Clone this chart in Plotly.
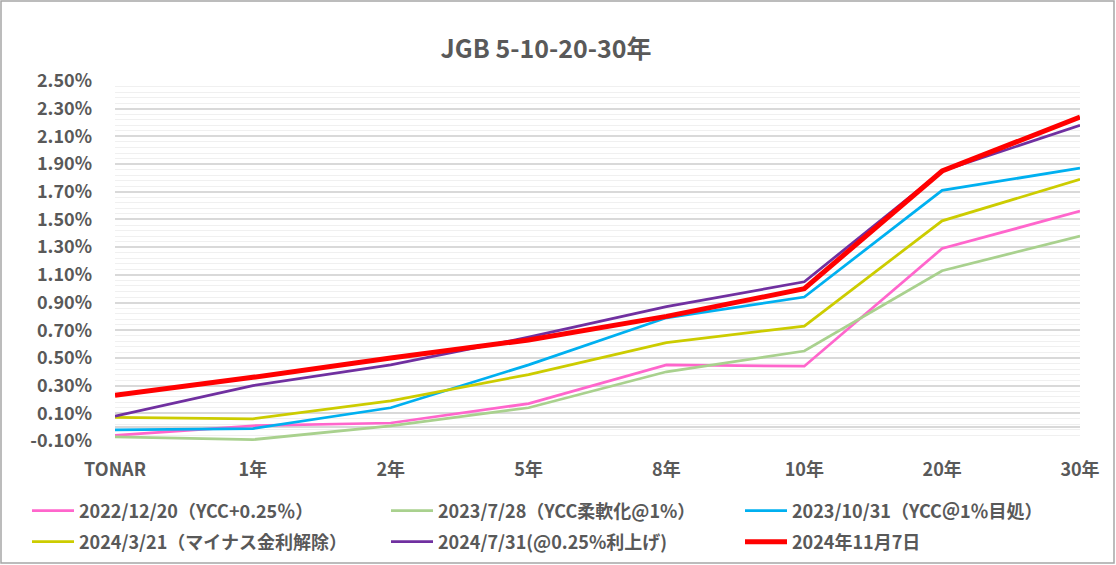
import plotly.graph_objects as go

categories = ["TONAR", "1年", "2年", "5年", "8年", "10年", "20年", "30年"]

series_names = [
    "2022/12/20（YCC+0.25％）",
    "2023/7/28（YCC柔軟化@1%）",
    "2023/10/31（YCC＠1％目処）",
    "2024/3/21（マイナス金利解除）",
    "2024/7/31(@0.25%利上げ)",
    "2024年11月7日",
]

y_20221220 = [-0.06, 0.01, 0.03, 0.17, 0.45, 0.44, 1.29, 1.56]
y_20230728 = [-0.07, -0.09, 0.01, 0.14, 0.40, 0.55, 1.13, 1.38]
y_20231031 = [-0.02, -0.01, 0.14, 0.45, 0.79, 0.94, 1.71, 1.87]
y_20240321 = [0.07, 0.06, 0.19, 0.38, 0.61, 0.73, 1.49, 1.79]
y_20240731 = [0.08, 0.30, 0.45, 0.65, 0.87, 1.05, 1.85, 2.18]
y_20241107 = [0.23, 0.36, 0.50, 0.63, 0.80, 1.00, 1.85, 2.24]

y_tick_values = [-0.1, 0.1, 0.3, 0.5, 0.7, 0.9, 1.1, 1.3, 1.5, 1.7, 1.9, 2.1, 2.3, 2.5]

series_values = [y_20221220, y_20230728, y_20231031, y_20240321, y_20240731, y_20241107]
colors = ["#FF66CC", "#A9D18E", "#00B0F0", "#CCCC00", "#7030A0", "#FF0000"]
widths = [2.75, 2.75, 2.75, 2.75, 2.75, 5]

FONT = "Noto Sans CJK JP"
TXT = "#595959"

W, H = 1116, 565
L, R, T, B = 115, 36, 81, 124
pw, ph = W - L - R, H - T - B

# legend slots (3 columns x 2 rows), pixel positions in the page
legend_cols_px = [27, 386, 740]
legend_rows_px = [511, 542]

fig = go.Figure()
legend_layout = {}
for i, (name, vals, c, w) in enumerate(zip(series_names, series_values, colors, widths)):
    lid = "legend" if i == 0 else f"legend{i + 1}"
    fig.add_trace(go.Scatter(
        x=categories, y=vals, mode="lines", name=name,
        line=dict(color=c, width=w), legend=lid,
    ))
    legend_layout[lid] = dict(
        orientation="h",
        xref="container", yref="container",
        x=legend_cols_px[i % 3] / W, xanchor="left",
        y=1 - legend_rows_px[i // 3] / H, yanchor="middle",
        itemwidth=42,
        font=dict(size=18, color=TXT, family=FONT, weight="bold"),
        bgcolor="rgba(0,0,0,0)",
    )

fig.update_layout(
    width=W, height=H,
    margin=dict(l=L, r=R, t=T, b=B, autoexpand=False),
    paper_bgcolor="white", plot_bgcolor="white",
    font=dict(family=FONT, color=TXT, size=15),
    title=dict(
        text="<b>JGB 5-10-20-30年</b>",
        x=546 / W, xanchor="center", xref="container",
        y=1 - 49 / H, yanchor="middle", yref="container",
        font=dict(size=25, color=TXT, family=FONT),
    ),
    showlegend=True,
    **legend_layout,
)

fig.update_xaxes(
    type="category",
    range=[0, len(categories) - 1],
    showgrid=False,
    showline=False,
    ticks="",
    ticklabelstandoff=16,
    tickfont=dict(size=18, color=TXT, family=FONT, weight="bold"),
)

fig.update_yaxes(
    range=[-0.1, 2.5],
    tickmode="array",
    tickvals=y_tick_values,
    ticktext=[f"{v:.2f}%" for v in y_tick_values],
    showgrid=True, gridcolor="#D9D9D9", gridwidth=1.5,
    zeroline=True, zerolinecolor="#D9D9D9", zerolinewidth=1.5,
    minor=dict(dtick=0.04, tick0=-0.1, showgrid=True, gridcolor="#F0F0F0", gridwidth=1),
    showline=False,
    ticks="",
    ticklabelstandoff=22,
    tickfont=dict(size=18, color=TXT, family=FONT, weight="bold"),
)

fig.add_shape(
    type="rect", xref="paper", yref="paper",
    x0=(1 - L) / pw, x1=(W - 2 - L) / pw,
    y0=(H - 2 - (H - B)) / -ph, y1=1 + (T - 1) / ph,
    line=dict(color="#A6A6A6", width=1.5), fillcolor="rgba(0,0,0,0)",
    layer="below",
)

fig.write_html(
    "out.html",
    config={"displayModeBar": False},
    post_script="document.body.style.margin='0px';document.body.style.overflow='hidden';",
)
